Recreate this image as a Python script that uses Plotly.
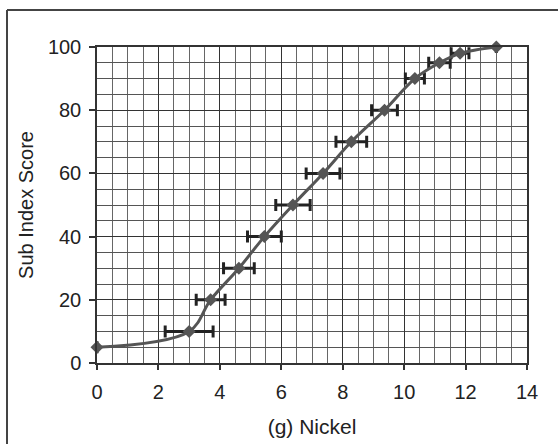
import plotly.graph_objects as go

nickel = [0, 3.0, 3.7, 4.62, 5.45, 6.38, 7.36, 8.28, 9.36, 10.35, 11.15, 11.82, 13.0]
score = [5, 10, 20, 30, 40, 50, 60, 70, 80, 90, 95, 98, 100]
nickel_err = [None, 0.78, 0.47, 0.5, 0.55, 0.56, 0.55, 0.5, 0.42, 0.31, 0.35, 0.29, None]

x_ticks = [0, 2, 4, 6, 8, 10, 12, 14]
y_ticks = [0, 20, 40, 60, 80, 100]

FONT = "Liberation Sans, Arial, sans-serif"

fig = go.Figure()
fig.add_trace(go.Scatter(
    x=nickel, y=score,
    mode="lines+markers",
    line=dict(color="#555555", width=3, shape="spline", smoothing=1),
    marker=dict(symbol="diamond", size=10, color="#555555"),
    error_x=dict(type="data", array=nickel_err, visible=True,
                 color="#222222", thickness=3, width=6),
    showlegend=False,
    cliponaxis=False,
))

# outer frame (left and top edges visible)
L, R, T, B = 97, 31, 47, 81
pw = 558 - L - R
ph = 444 - T - B
fx = (7 - L) / pw
fy = (ph + T - 10) / ph
fig.add_shape(type="line", xref="paper", yref="paper", x0=fx, x1=fx, y0=-1, y1=fy,
              line=dict(color="#444444", width=2))
fig.add_shape(type="line", xref="paper", yref="paper", x0=fx, x1=2, y0=fy, y1=fy,
              line=dict(color="#444444", width=2))

fig.update_layout(
    width=558, height=444,
    margin=dict(l=L, r=R, t=T, b=B, autoexpand=False),
    paper_bgcolor="white", plot_bgcolor="white",
    font=dict(family=FONT, size=20, color="#222222"),
    xaxis=dict(
        range=[0, 14], tickvals=x_ticks, ticktext=[str(v) for v in x_ticks],
        automargin=False,
        showgrid=True, gridcolor="#333333", gridwidth=1,
        minor=dict(dtick=0.5, tick0=0, showgrid=True, gridcolor="#666666", gridwidth=1),
        showline=True, linecolor="#333333", linewidth=1.5, mirror=True,
        ticks="outside", ticklen=5, tickcolor="#333333", tickwidth=1.5,
        ticklabelstandoff=5, tickfont=dict(size=20),
        zeroline=False,
        title=dict(text="(g) Nickel", standoff=18, font=dict(size=21)),
    ),
    yaxis=dict(
        range=[0, 100], tickvals=y_ticks, ticktext=[str(v) for v in y_ticks],
        automargin=False,
        showgrid=True, gridcolor="#333333", gridwidth=1,
        minor=dict(dtick=5, tick0=0, showgrid=True, gridcolor="#555555", gridwidth=1),
        showline=True, linecolor="#333333", linewidth=1.5, mirror=True,
        ticks="outside", ticklen=6, tickcolor="#333333", tickwidth=1.5,
        ticklabelstandoff=4, tickfont=dict(size=20),
        zeroline=False,
        title=dict(text="Sub Index Score", standoff=9, font=dict(size=20)),
    ),
)

fig.write_html("out.html", config={"displayModeBar": False},
               post_script="document.body.style.margin='0';")
